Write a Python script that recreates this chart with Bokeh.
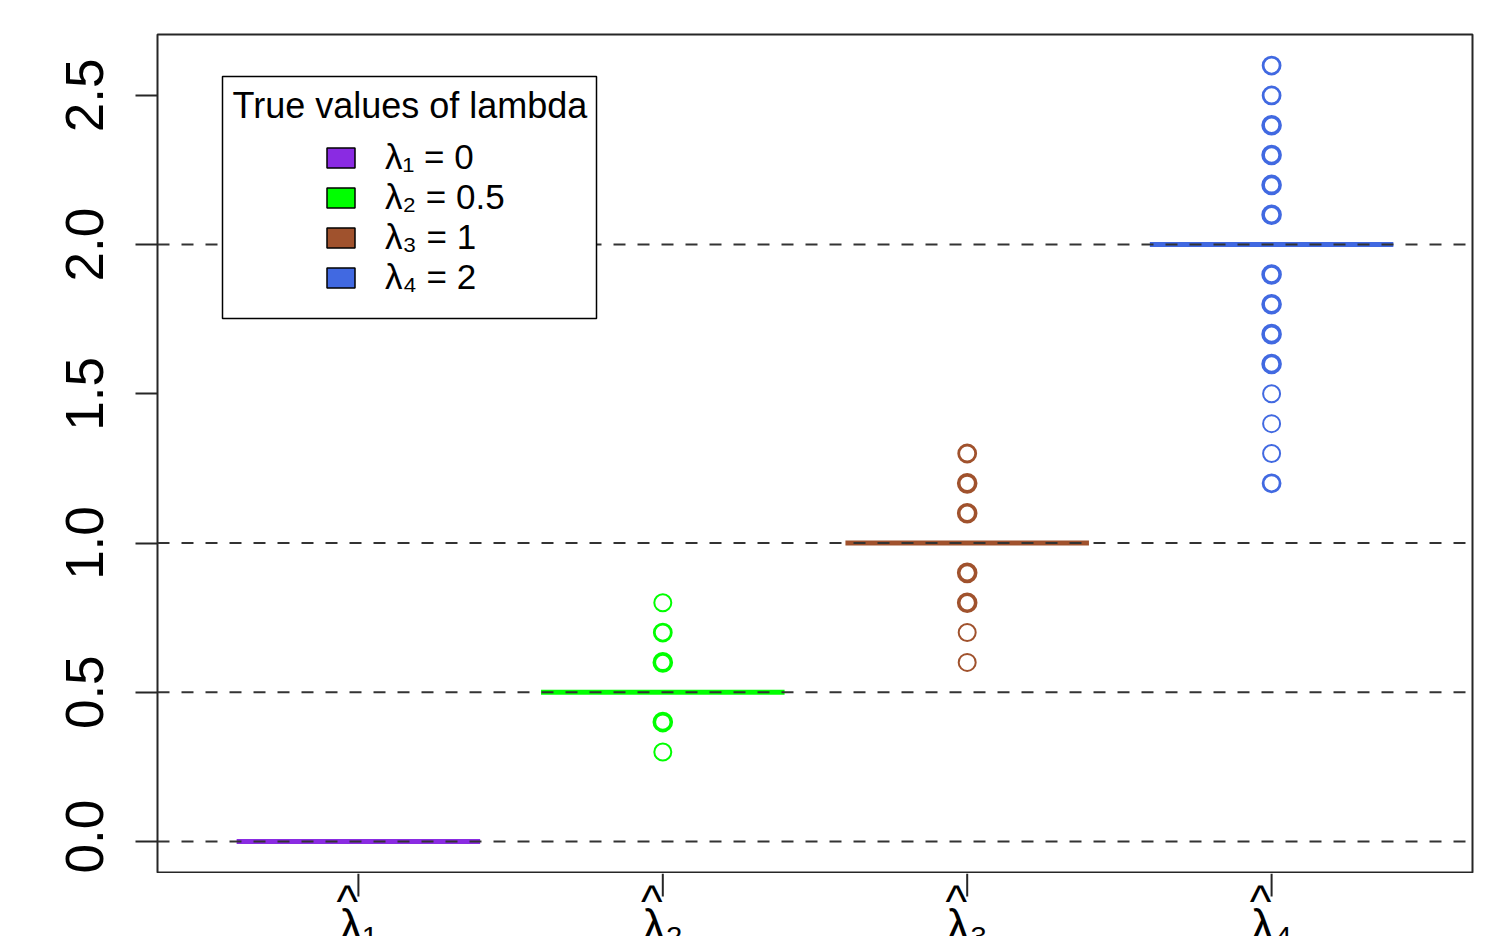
import numpy as np
from bokeh.plotting import figure
from bokeh.layouts import column
from bokeh.models import (Range1d, Span, Label, BoxAnnotation, Legend, LegendItem,
                          ColumnDataSource, FixedTicker, PrintfTickFormatter)
from bokeh.embed import file_html
from bokeh.resources import INLINE
from bokeh.core.properties import value

# ---------------- data ----------------
groups = ["λ₁", "λ₂", "λ₃", "λ₄"]
positions = [1, 2, 3, 4]
true_values = [0.0, 0.5, 1.0, 2.0]
medians = [0.0, 0.5, 1.0, 2.0]
colors = ["#8A2BE2", "#00FF00", "#A0522D", "#4169E1"]
legend_title = "True values of lambda"
legend_labels = ["λ₁ = 0", "λ₂ = 0.5", "λ₃ = 1", "λ₄ = 2"]
outliers_1 = []
outliers_2 = [0.3, 0.4, 0.4, 0.4, 0.6, 0.6, 0.6, 0.7, 0.7, 0.8]
outliers_3 = [0.6, 0.7, 0.8, 0.8, 0.8, 0.9, 0.9, 0.9, 1.1, 1.1, 1.1,
              1.2, 1.2, 1.2, 1.3, 1.3]
outliers_4 = [1.2, 1.2, 1.3, 1.4, 1.5, 1.6, 1.6, 1.6, 1.7, 1.7, 1.7,
              1.8, 1.8, 1.8, 1.9, 1.9, 1.9, 2.1, 2.1, 2.1, 2.2, 2.2, 2.2,
              2.3, 2.3, 2.3, 2.4, 2.4, 2.4, 2.5, 2.5, 2.6, 2.6]
y_ticks = [0.0, 0.5, 1.0, 1.5, 2.0, 2.5]
outliers = [outliers_1, outliers_2, outliers_3, outliers_4]

# ---------------- ranges ----------------
all_vals = np.concatenate([np.array(o, dtype=float) for o in outliers] + [np.array(medians)])
ymin, ymax = all_vals.min(), all_vals.max()
ypad = 0.04 * (ymax - ymin)
xlo, xhi = min(positions) - 0.5, max(positions) + 0.5
xpad = 0.04 * (xhi - xlo)
x_range = Range1d(xlo - xpad, xhi + xpad)

W = 1478
p = figure(width=W, height=873, output_backend="svg", toolbar_location=None,
           x_range=x_range, y_range=Range1d(ymin - ypad, ymax + ypad),
           x_axis_location=None,
           min_border_left=157, min_border_right=6, min_border_top=34,
           min_border_bottom=1)
p.grid.visible = False
p.background_fill_color = "white"
p.border_fill_color = "white"
p.outline_line_color = "#262626"
p.outline_line_width = 2

# y axis
p.yaxis.ticker = FixedTicker(ticks=y_ticks)
p.yaxis.formatter = PrintfTickFormatter(format="%.1f")
p.yaxis.major_label_orientation = "vertical"
p.yaxis.major_label_text_font = "Liberation Sans"
p.yaxis.major_label_text_font_size = "53px"
p.yaxis.major_label_text_color = "black"
p.yaxis.major_label_standoff = 32
p.yaxis.axis_line_color = None
p.yaxis.major_tick_out = 22
p.yaxis.major_tick_in = 0
p.yaxis.major_tick_line_width = 2
p.yaxis.major_tick_line_color = "#262626"
p.yaxis.minor_tick_line_color = None

# medians (collapsed boxes)
half_w = 0.4
med_src = ColumnDataSource(dict(x0=[x - half_w for x in positions],
                                x1=[x + half_w for x in positions],
                                y=medians, color=colors))
p.segment(x0="x0", x1="x1", y0="y", y1="y", line_color="color", line_width=5,
          source=med_src)

# outliers
for pos, vals, col in zip(positions, outliers, colors):
    if len(vals) == 0:
        continue
    u, c = np.unique(np.array(vals, dtype=float), return_counts=True)
    src = ColumnDataSource(dict(x=[pos] * len(u), y=u,
                                lw=[2.0 + 0.8 * (k - 1) for k in c]))
    p.scatter(x="x", y="y", size=17, marker="circle", fill_color=None,
              line_color=col, line_width="lw", source=src)

# reference lines at the true values
for tv in true_values:
    p.add_layout(Span(location=tv, dimension="width", line_color="#333333",
                      line_width=2, line_dash="12 12"))

# legend box + title
p.add_layout(BoxAnnotation(left=65, right=439, bottom=554, top=796,
                           left_units="screen", right_units="screen",
                           bottom_units="screen", top_units="screen",
                           fill_color="white", fill_alpha=1.0,
                           line_color="black", line_width=1.5, line_alpha=1.0))
p.add_layout(Label(x=75, y=767, x_units="screen", y_units="screen",
                   text=legend_title, text_font="Liberation Sans",
                   text_font_size="36px", text_baseline="middle", text_color="black"))

items = []
for lab, col in zip(legend_labels, colors):
    r = p.quad(left=[np.nan], right=[np.nan], top=[np.nan], bottom=[np.nan],
               fill_color=col, line_color="black", line_width=1.5)
    items.append(LegendItem(label=lab, renderers=[r]))
leg = Legend(items=items, location=(166, 575), padding=0, margin=0, spacing=0,
             glyph_width=35, glyph_height=25, label_height=40, label_standoff=27,
             label_text_font="Liberation Sans", label_text_font_size="35px",
             label_text_color="black", border_line_color=None,
             background_fill_alpha=0.0)
p.add_layout(leg)

# ---------------- x-axis strip (ticks + hat-lambda labels) ----------------
H2 = 63
pb = figure(width=W, height=H2, output_backend="svg", toolbar_location=None,
            x_range=x_range, y_range=Range1d(-H2, 0),
            x_axis_location=None, y_axis_location=None,
            min_border_left=157, min_border_right=6, min_border_top=0,
            min_border_bottom=0)
pb.grid.visible = False
pb.outline_line_color = None
pb.background_fill_color = "white"
pb.border_fill_color = "white"

tick_len = 23
n = len(positions)
strip_src = ColumnDataSource(dict(x=positions, y0=[0] * n, y1=[-tick_len] * n,
                                  text=groups, hat=["^"] * n,
                                  hat_y=[-1] * n, lab_y=[-26] * n))
pb.segment(x0="x", x1="x", y0="y0", y1="y1", line_color="#262626", line_width=2,
           source=strip_src)
pb.text(x="x", y="hat_y", text="hat", source=strip_src, x_offset=-11,
        text_font=value("Liberation Sans"), text_font_size="46px",
        text_align="center", text_baseline="top", text_color="black")
pb.text(x="x", y="lab_y", text="text", source=strip_src,
        text_font=value("Liberation Sans"), text_font_size="46px",
        text_align="center", text_baseline="top", text_color="black")

layout = column(p, pb, spacing=0)
open("out.html", "w").write(file_html(layout, INLINE))
